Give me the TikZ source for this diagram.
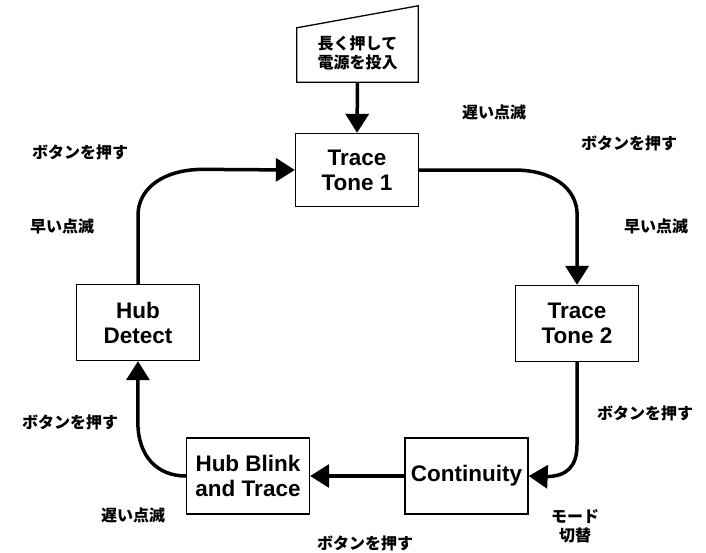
\documentclass[tikz,border=0pt]{standalone}
\usepackage{fontspec}
\setmainfont{Liberation Sans}
\newfontfamily\jp{Noto Sans CJK JP}
\usetikzlibrary{arrows.meta,calc}
\begin{document}
\begin{tikzpicture}[x=1pt,y=-1pt,
  state/.style={draw,line width=1.3pt,minimum width=123pt,minimum height=76pt,inner sep=0pt,
    align=center,font=\fontsize{22.5}{25}\selectfont\bfseries},
  lbl/.style={font=\jp\fontsize{16}{19}\selectfont\bfseries,align=center,inner sep=0pt},
  flow/.style={line width=3.5pt,-{Triangle[length=19pt 0,width=23pt 0]}}]
\useasboundingbox (0,0) rectangle (706,552);
% manual input
\node[minimum width=121pt,minimum height=76pt,inner sep=0pt] (power) at (357.5,44) {};
\draw[line width=1.3pt] (power.south west) -- (power.south east) -- (power.north east)
  -- ($(power.north west)+(0,22)$) -- cycle;
\node[lbl] (powertext) at (357.5,53) {長く押して\\電源を投入};
% states
\node[state,minimum height=73pt] (t1) at (357,170) {Trace\\Tone 1};
\node[state] (t2) at (577,323.5) {Trace\\Tone 2};
\node[state] (hd) at (138,322.5) {Hub\\Detect};
\node[state] (co) at (466.5,476) {Continuity};
\node[state] (hb) at (248,476) {Hub Blink\\and Trace};
% connectors
\draw[flow] (power.south) -- (t1.north);
\draw[flow] (t1.east) -- ++(95,0) .. controls +(38,0) and +(0,-27) .. ++(63,45) -- (t2.north);
\draw[flow] (t2.south) -- ++(0,82.5) .. controls +(0,22) and +(22,0) .. ++(-32,32) -- (co.east);
\draw[flow] (co.west) -- (hb.east);
\draw[flow] (hb.west) .. controls +(-28,0) and +(0,35) .. ++(-48,-54) -- (hd.south);
\draw[flow] (hd.north) -- ++(0,-68.5) .. controls +(0,-28) and +(-38,0) .. ++(65,-46) -- (t1.west);
% labels
\node[lbl] (l1) at (494,112) {遅い点滅};
\node[lbl] (l2) at (629,143) {ボタンを押す};
\node[lbl] (l3) at (656,226) {早い点滅};
\node[lbl] (l4) at (80,152) {ボタンを押す};
\node[lbl] (l5) at (62,226) {早い点滅};
\node[lbl] (l6) at (645,413) {ボタンを押す};
\node[lbl] (l7) at (575,526) {モード\\切替};
\node[lbl] (l8) at (70,422) {ボタンを押す};
\node[lbl] (l9) at (133,515) {遅い点滅};
\node[lbl] (l10) at (365,543) {ボタンを押す};
\end{tikzpicture}
\end{document}
